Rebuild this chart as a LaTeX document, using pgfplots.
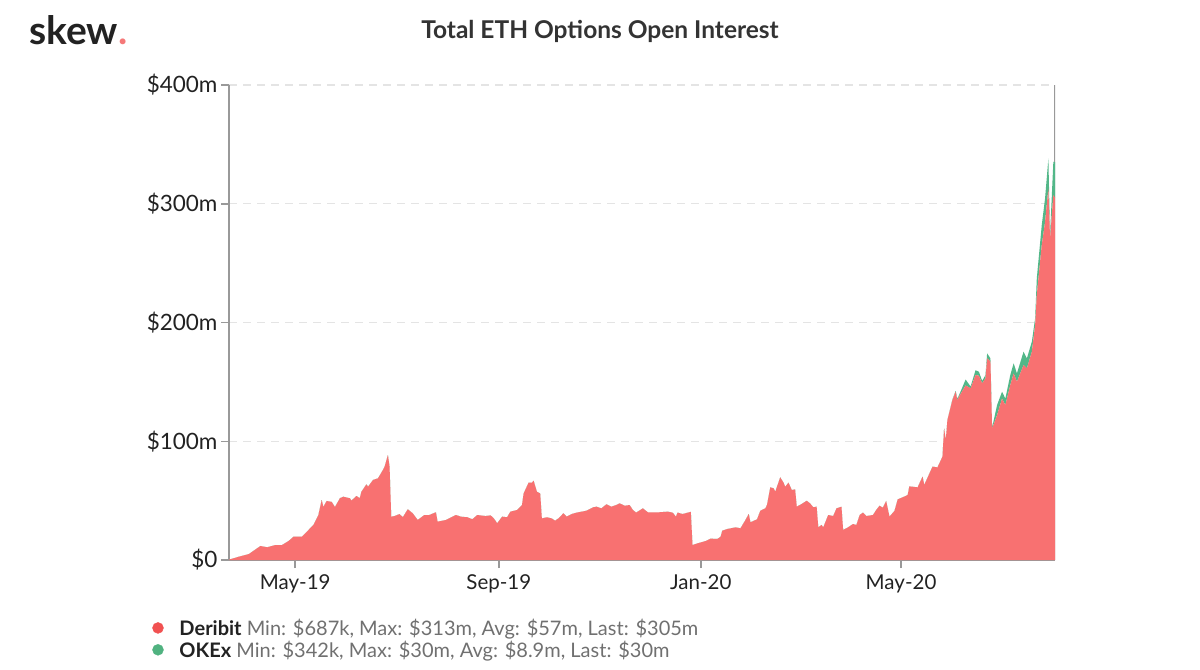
\documentclass[border=0pt]{standalone}
\usepackage{fontspec}
\setmainfont{Lato}
\usepackage{pgfplots}
\pgfplotsset{compat=1.18}
\usepackage{pgfplotstable}
\definecolor{derarea}{RGB}{248,113,113}
\definecolor{okarea}{RGB}{82,183,136}
\definecolor{derdot}{RGB}{241,81,81}
\definecolor{okdot}{RGB}{80,178,128}
\definecolor{skewdot}{RGB}{245,120,120}
\definecolor{txt}{RGB}{34,34,34}
\definecolor{titletxt}{RGB}{51,51,51}
\definecolor{legtxt}{RGB}{112,112,112}
\definecolor{gray2}{RGB}{153,153,153}
\definecolor{gridc}{RGB}{228,228,228}

% days since 2019-05-01, values in $m
\pgfplotstableread{
d deribit okex
-40 0.5 0
-39 0.7 0
-34 2.8 0
-28 5 0
-21 11.8 0
-17 10.7 0
-12 12.6 0
-8 12.6 0
-4 16 0
-1 19.6 0
4 19.6 0
7 23.8 0
11 29.5 0
14 37.9 0
16 50.5 0
17 44.6 0
19 49.7 0
22 49 0
24 44.6 0
27 52 0
29 53.3 0
33 52 0
34 50 0
37 53.9 0
39 52 0
40 57.5 0
43 63.7 0
44 61.7 0
47 67.4 0
50 68.8 0
53 75.8 0
54 78.6 0
56 88.4 0
57 78.6 0
58 36.5 0
60 37 0
63 38.7 0
65 36 0
68 42.7 0
71 39.3 0
74 33.7 0
78 37.9 0
81 37.9 0
85 40.2 0
86 32.3 0
91 33.7 0
97 37.9 0
100 36.5 0
104 36 0
107 34.3 0
110 37.9 0
115 37 0
118 37.6 0
120 35 0
122 30.9 0
125 36.5 0
128 36 0
130 40.7 0
134 42.1 0
137 46.3 0
138 56.1 0
141 65.1 0
143 65.1 0
144 66.8 0
146 57.5 0
148 56.1 0
149 35 0
152 36 0
155 35 0
157 33.1 0
159 35 0
162 39.3 0
164 36.5 0
167 38.7 0
170 39.9 0
173 40.7 0
176 41.5 0
180 44.4 0
182 44.9 0
185 43.5 0
188 46.9 0
191 44.9 0
194 46.3 0
196 47.7 0
199 45.7 0
202 46.3 0
204 42.1 0
206 39.9 0
210 43.5 0
213 40.2 0
216 40.2 0
220 40.2 0
225 40.7 0
228 39.9 0
230 36.5 0
231 39.9 0
234 38.7 0
238 40.2 0
239 40.5 0
240 12.6 0
243 14 0
248 16 0
251 18 0
255 17.7 0
257 19.6 0
258 24.7 0
261 26.1 0
266 27.5 0
269 26.7 0
272 33.7 0
274 38.7 0
275 31.7 0
279 34.3 0
281 41.5 0
284 43.5 0
285 46.3 0
287 61.2 0
289 60.4 0
290 57.5 0
293 69.6 0
295 65.1 0
296 61.7 0
298 65.1 0
300 58.9 0
302 59.5 0
303 44.9 0
306 47.2 0
309 49.9 0
311 47.7 0
313 44.4 0
315 44.9 0
316 27.5 0
318 29.5 0
319 27.5 0
322 37.9 0
325 37 0
327 43.5 0
330 44.9 0
331 25.3 0
334 27.5 0
337 30.3 0
339 29.5 0
341 37.9 0
343 39.9 0
345 37 0
349 37.9 0
351 42.1 0
353 45.7 0
355 44 0
357 49.7 0
359 36.5 0
362 41.3 0
364 51.1 0
367 52.8 0
370 54.7 0
371 62 0
376 61.2 0
379 70.2 0
380 63.2 0
385 78.6 0
388 78 0
391 87 0
392 110.9 0
393 101 0
394 117.9 0
397 134.7 0.4
399 141.7 0.8
400 134.7 1
402 140 2
405 147 5
408 144.6 1.5
411 155.8 4
413 155.2 3.4
415 148.8 2
417 153 2.8
418 169.8 4.2
420 167 2.8
421 110.9 0.5
424 122 8.5
427 136 5.7
429 130.5 5.5
432 147.4 8.4
434 157.2 8.4
436 150.2 7
440 164.2 11.2
442 161.4 8.4
445 175.4 8.4
447 197.9 5.6
448 223.2 14
451 265.3 16.8
453 284.9 19.7
455 313 25.2
456 270.9 2.8
458 307.4 28
459 305 30
}\oidata

\begin{document}
\begin{tikzpicture}
\path[use as bounding box] (0,0) rectangle (1200bp,-670bp);
\node[anchor=base west, inner sep=0pt, text=txt] at (29bp,-44bp) {\fontsize{39bp}{41bp}\selectfont\bfseries skew\textcolor{skewdot}{.}};
\node[anchor=center, inner sep=0pt, text=titletxt] at (600bp,-31bp) {\fontsize{24.5bp}{28bp}\selectfont\bfseries Total ETH Options Open Interest};
\begin{axis}[
  at={(229bp,-560bp)}, anchor=south west, scale only axis,
  width=826bp, height=475bp,
  xmin=-40, xmax=459, ymin=0, ymax=400,
  stack plots=y,
  axis x line*=bottom, axis y line*=left,
  x axis line style={gray2, line width=2.5bp},
  y axis line style={gray2, line width=1.5bp},
  tick align=outside, major tick length=8bp,
  xtick={0,123,245,366}, xticklabels={May-19,Sep-19,Jan-20,May-20},
  ytick={0,100,200,300,400}, yticklabels={\$0,\$100m,\$200m,\$300m,\$400m},
  xtick style={gray2, line width=2bp},
  ytick style={gray2, line width=1.5bp},
  ymajorgrids,
  grid style={gridc, dash pattern=on 8bp off 6bp, line width=1.2bp},
  xticklabel style={font=\fontsize{20.5bp}{24bp}\selectfont, text=txt, yshift=-3bp},
  yticklabel style={font=\fontsize{22.5bp}{26bp}\selectfont, text=txt},
  /pgf/number format/assume math mode=true,
  legend style={at={(-0.108,-0.1196)}, anchor=north west, draw=none, fill=none,
    font=\fontsize{20bp}{23bp}\selectfont, text=txt, row sep=0bp, inner sep=0pt},
  legend cell align=left,
]
\addplot[draw=none, fill=derarea, forget plot] table[x=d, y=deribit]{\oidata} \closedcycle;
\addplot[draw=none, fill=okarea, forget plot] table[x=d, y=okex]{\oidata} \closedcycle;
\addlegendimage{legend image code/.code={\path[draw=none,fill=none] (0bp,-7bp) rectangle (37.5bp,7bp); \fill[derdot] (18bp,0bp) circle (5.5bp);}}
\addlegendentry{\textbf{Deribit} \textcolor{legtxt}{Min: \$687k, Max: \$313m, Avg: \$57m, Last: \$305m}}
\addlegendimage{legend image code/.code={\path[draw=none,fill=none] (0bp,-7bp) rectangle (37.5bp,7bp); \fill[okdot] (18bp,0bp) circle (5.5bp);}}
\addlegendentry{\textbf{OKEx} \textcolor{legtxt}{Min: \$342k, Max: \$30m, Avg: \$8.9m, Last: \$30m}}
\draw[gray2, line width=1.8bp] (rel axis cs:1,0) -- (rel axis cs:1,1);
\end{axis}
\end{tikzpicture}
\end{document}
